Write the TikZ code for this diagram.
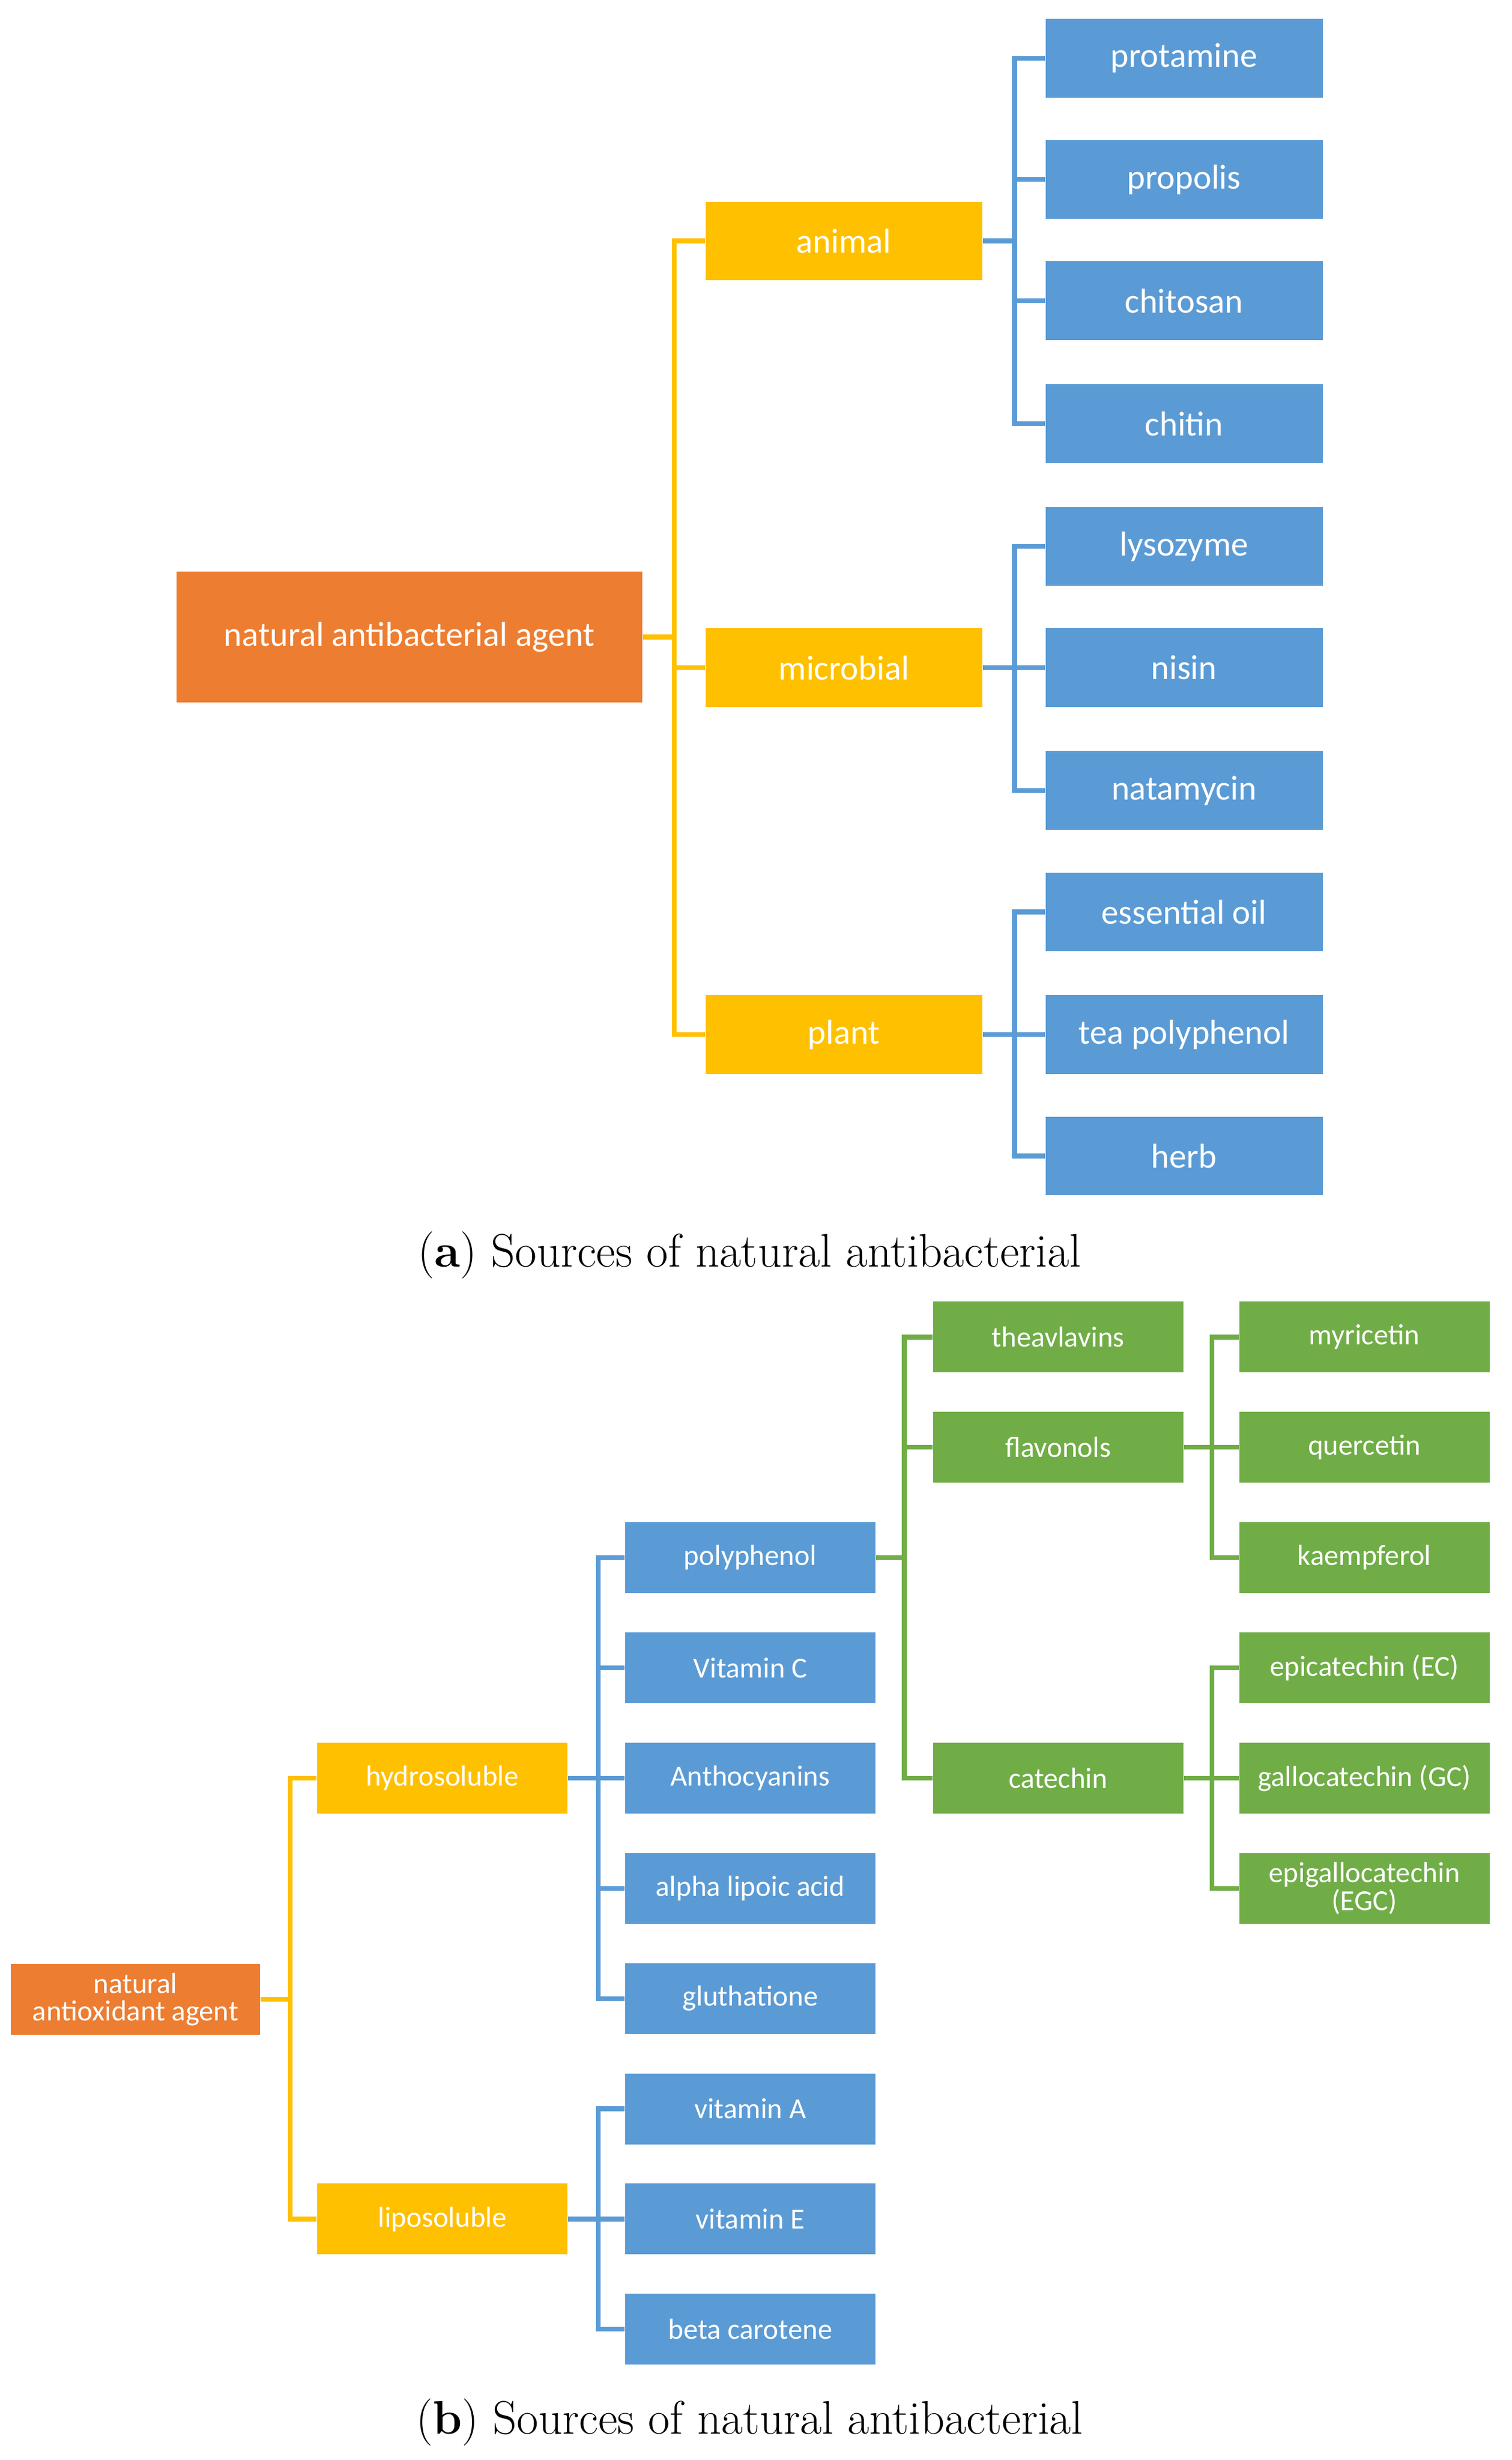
\documentclass[tikz,border=0pt]{standalone}
\usepackage{fontspec}
\newfontfamily\carl{Carlito}
\begin{document}
\begin{tikzpicture}[x=0.02cm,y=-0.02cm,
  box/.style={inner sep=0pt,text=white,align=center,font=\carl},
  ba/.style={box,minimum width=3.52cm,minimum height=1cm,font=\carl\fontsize{12.5}{14}\selectfont},
  bb/.style={box,minimum width=3.18cm,minimum height=0.9cm,font=\carl\fontsize{10.5}{12}\selectfont},
  org/.style={fill={rgb,255:red,237;green,125;blue,49}},
  yel/.style={fill={rgb,255:red,255;green,192;blue,0}},
  blu/.style={fill={rgb,255:red,91;green,155;blue,213}},
  grn/.style={fill={rgb,255:red,112;green,173;blue,71}},
  cy/.style={draw={rgb,255:red,255;green,192;blue,0},line width=1.7pt},
  cb/.style={draw={rgb,255:red,91;green,155;blue,213},line width=1.7pt},
  cg/.style={draw={rgb,255:red,112;green,173;blue,71},line width=1.7pt}]
\useasboundingbox (0,0) rectangle (960,1562);
% part a
\node[ba,org,minimum width=5.92cm,minimum height=1.66cm] (A) at (260,404.5) {natural antibacterial agent};
\node[ba,yel] (an) at (536,153) {animal};
\node[ba,yel] (mi) at (536,424) {microbial};
\node[ba,yel] (pl) at (536,657) {plant};
\foreach \n/\t/\y in {a1/protamine/37,a2/propolis/114,a3/chitosan/191,a4/chitin/269,
  m1/lysozyme/347,m2/nisin/424,m3/natamycin/502,p1/essential oil/579,p2/tea polyphenol/657,p3/herb/734}
  \node[ba,blu] (\n) at (752,\y) {\t};
\foreach \c in {an,mi,pl} \draw[cy] (A.east) -- ++(20,0) |- (\c.west);
\foreach \c in {a1,a2,a3,a4} \draw[cb] (an.east) -- ++(20,0) |- (\c.west);
\foreach \c in {m1,m2,m3} \draw[cb] (mi.east) -- ++(20,0) |- (\c.west);
\foreach \c in {p1,p2,p3} \draw[cb] (pl.east) -- ++(20,0) |- (\c.west);
\node[font=\fontsize{17}{20}\selectfont] (ca) at (476,797) {(\textbf{a}) Sources of natural antibacterial};
% part b
\node[bb,org,minimum width=3.16cm] (B) at (86,1269.5) {natural\\[-2pt]antioxidant agent};
\node[bb,yel] (hy) at (281,1129) {hydrosoluble};
\node[bb,yel] (li) at (281,1409) {liposoluble};
\foreach \n/\t/\y in {h1/polyphenol/989,h2/Vitamin C/1059,h3/Anthocyanins/1129,h4/alpha lipoic acid/1199,
  h5/gluthatione/1269,l1/vitamin A/1339,l2/vitamin E/1409,l3/beta carotene/1479}
  \node[bb,blu] (\n) at (476.5,\y) {\t};
\foreach \n/\t/\y in {g1/theavlavins/849,g2/flavonols/919,g3/catechin/1129}
  \node[bb,grn] (\n) at (672,\y) {\t};
\foreach \n/\t/\y in {f1/myricetin/849,f2/quercetin/919,f3/kaempferol/989,
  c1/epicatechin (EC)/1059,c2/gallocatechin (GC)/1129,c3/epigallocatechin\\[-2pt](EGC)/1199}
  \node[bb,grn] (\n) at (866.5,\y) {\t};
\foreach \c in {hy,li} \draw[cy] (B.east) -- ++(19,0) |- (\c.west);
\foreach \c in {h1,h2,h3,h4,h5} \draw[cb] (hy.east) -- ++(19,0) |- (\c.west);
\foreach \c in {l1,l2,l3} \draw[cb] (li.east) -- ++(19,0) |- (\c.west);
\foreach \c in {g1,g2,g3} \draw[cg] (h1.east) -- ++(18,0) |- (\c.west);
\foreach \c in {f1,f2,f3} \draw[cg] (g2.east) -- ++(18,0) |- (\c.west);
\foreach \c in {c1,c2,c3} \draw[cg] (g3.east) -- ++(18,0) |- (\c.west);
\node[font=\fontsize{17}{20}\selectfont] (cb) at (476,1538) {(\textbf{b}) Sources of natural antibacterial};
\end{tikzpicture}
\end{document}
